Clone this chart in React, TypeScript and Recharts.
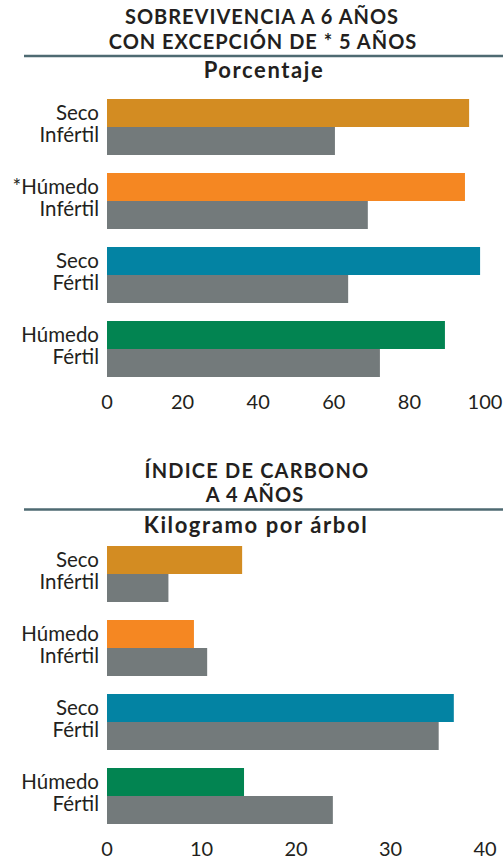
import React from "react";
import { BarChart, Bar, XAxis, YAxis, Cell } from "recharts";

const labelLine1 = ["Seco", "*Húmedo", "Seco", "Húmedo"];
const labelLine2 = ["Infértil", "Infértil", "Fértil", "Fértil"];
const labelLine1Carbon = ["Seco", "Húmedo", "Seco", "Húmedo"];

const survivalColored = [95.8, 94.7, 98.7, 89.4];
const survivalGray = [60.3, 69.0, 63.8, 72.2];
const survivalTicks = [0, 20, 40, 60, 80, 100];

const carbonColored = [14.3, 9.2, 36.7, 14.5];
const carbonGray = [6.5, 10.6, 35.1, 23.9];
const carbonTicks = [0, 10, 20, 30, 40];

const categoryColors = ["#D38C22", "#F58722", "#0383A3", "#028451"];
const grayColor = "#737A7B";

const FONT = "Lato, 'Open Sans', sans-serif";
const TEXT = "#231F20";

function buildData(l1: string[], l2: string[], a: number[], b: number[]) {
  return l1.map((n, i) => ({ name: `${n}|${l2[i]}`, colored: a[i], gray: b[i] }));
}

const survivalData = buildData(labelLine1, labelLine2, survivalColored, survivalGray);
const carbonData = buildData(labelLine1Carbon, labelLine2, carbonColored, carbonGray);

const CatTick = (props: any) => {
  const { x, y, payload } = props;
  const [a, b] = String(payload.value).split("|");
  const common = { x, textAnchor: "end" as const, fontFamily: FONT, fontSize: 20.5, fontWeight: 400, fill: TEXT };
  return (
    <g>
      <text {...common} y={y - 7}>{a}</text>
      <text {...common} y={y + 15}>{b}</text>
    </g>
  );
};

function Panel({ data, ticks, domain, height, axisHeight }: any) {
  return (
    <BarChart
      layout="vertical"
      width={503}
      height={height}
      data={data}
      margin={{ top: 90, right: 18, bottom: 0, left: 0 }}
      barCategoryGap={9}
      barGap={0}
    >
      <XAxis
        type="number"
        domain={domain}
        ticks={ticks}
        axisLine={false}
        tickLine={false}
        tickSize={0}
        tickMargin={9}
        height={axisHeight}
        interval={0}
        tick={{ fontFamily: FONT, fontSize: 20, fontWeight: 400, fill: TEXT }}
      />
      <YAxis
        type="category"
        dataKey="name"
        width={107}
        axisLine={false}
        tickLine={false}
        tickSize={0}
        tickMargin={8}
        interval={0}
        tick={<CatTick />}
      />
      <Bar dataKey="colored" isAnimationActive={false}>
        {data.map((_: any, i: number) => (
          <Cell key={i} fill={categoryColors[i]} />
        ))}
      </Bar>
      <Bar dataKey="gray" fill={grayColor} isAnimationActive={false} />
    </BarChart>
  );
}

export default function App() {
  const titleStyle = { letterSpacing: "1px" };
  const subStyle = { letterSpacing: "1.6px" };
  return (
    <div style={{ position: "absolute", left: 0, top: 0, width: 503, height: 859, background: "#fff" }}>
      <svg width={503} height={859} style={{ position: "absolute", left: 0, top: 0 }}>
        <g fontFamily={FONT} fill={TEXT} textAnchor="middle">
          <text x={262} y={24} fontSize={20} fontWeight={700} style={titleStyle}>SOBREVIVENCIA A 6 AÑOS</text>
          <text x={263} y={49} fontSize={20} fontWeight={700} style={titleStyle}>CON EXCEPCIÓN DE * 5 AÑOS</text>
          <text x={264} y={78} fontSize={22} fontWeight={700} style={subStyle}>Porcentaje</text>
          <text x={257} y={478} fontSize={20} fontWeight={700} style={{ letterSpacing: "1.2px" }}>ÍNDICE DE CARBONO</text>
          <text x={255} y={502} fontSize={20} fontWeight={700} style={titleStyle}>A 4 AÑOS</text>
          <text x={256} y={533} fontSize={22} fontWeight={700} style={subStyle}>Kilogramo por árbol</text>
        </g>
        <line x1={24} x2={503} y1={56} y2={56} stroke="#4E6A72" strokeWidth={2.5} />
        <line x1={24} x2={503} y1={509.5} y2={509.5} stroke="#4E6A72" strokeWidth={2.5} />
      </svg>
      <div style={{ position: "absolute", left: 0, top: 0 }}>
        <Panel data={survivalData} ticks={survivalTicks} domain={[0, 100]} height={416} axisHeight={30} />
      </div>
      <div style={{ position: "absolute", left: 0, top: 447 }}>
        <Panel data={carbonData} ticks={carbonTicks} domain={[0, 40]} height={412} axisHeight={26} />
      </div>
    </div>
  );
}
